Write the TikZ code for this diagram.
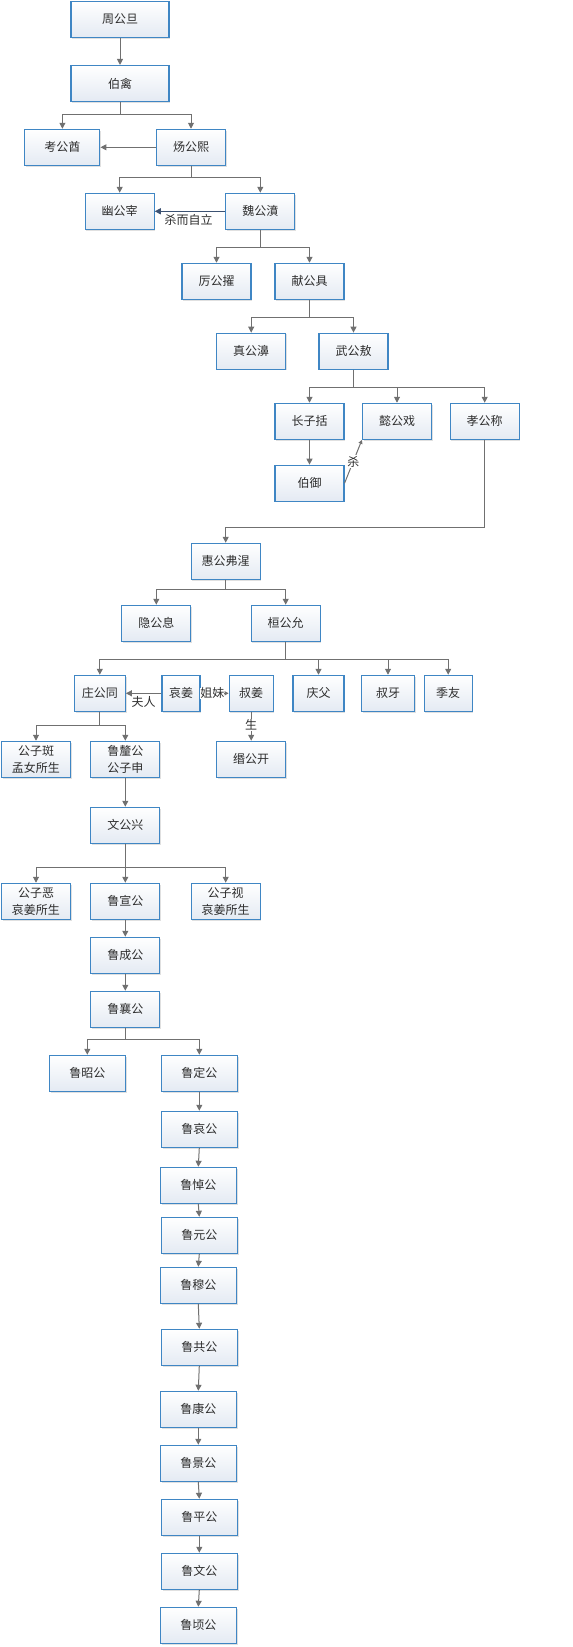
\documentclass[tikz,border=0pt]{standalone}
\usepackage{fontspec}
\setmainfont{Noto Sans CJK SC}
\usepackage{tikz}
\usetikzlibrary{arrows.meta, shadows}
\usepackage{xcolor}
\definecolor{kuanglan}{RGB}{63, 134, 196}
\definecolor{dise}{RGB}{228, 234, 243}
\definecolor{xianhui}{RGB}{112, 112, 112}
\definecolor{shenlan}{RGB}{60, 82, 115}
\definecolor{zise}{RGB}{45, 45, 45}

\begin{document}
\begin{tikzpicture}[
    x=1pt, y=-1pt,
    ren/.style={
        draw=kuanglan,
        line width=1.1pt,
        top color=white,
        bottom color=dise,
        minimum width=69pt,
        minimum height=36pt,
        inner sep=2pt,
        align=center,
        text=zise,
        font=\fontsize{12}{17}\selectfont,
        general shadow={shadow xshift=1.2pt, shadow yshift=-1.2pt, fill=black!12}
    },
    jiantou/.style={
        -{Triangle[length=6pt, width=6pt]},
        draw=xianhui,
        line width=1pt
    },
    biaozhu/.style={
        text=zise,
        font=\fontsize{12}{14}\selectfont
    }
]

\useasboundingbox (0,0) rectangle (573,1647);

% =================================================
% 周公 -- 魏公
% =================================================

\node[ren, minimum width=98pt] (zhougong) at (120,19.5) {周公旦};
\node[ren, minimum width=98pt] (boqin) at (120,83.5) {伯禽};

\node[ren, minimum width=75pt] (kaogong) at (62.4,147.3) {考公酋};
\node[ren] (yanggong) at (191,147.3) {炀公熙};

\node[ren] (yougong) at (119.7,211.3) {幽公宰};
\node[ren] (weigong) at (260.3,211.3) {魏公濆};

\draw[jiantou] (zhougong) -- (boqin);
\draw[jiantou] (boqin.south) -- ++(0,12) -| (kaogong);
\draw[jiantou] (boqin.south) -- ++(0,12) -| (yanggong);
\draw[jiantou] (yanggong) -- (kaogong);
\draw[jiantou] (yanggong.south) -- ++(0,12) -| (yougong);
\draw[jiantou] (yanggong.south) -- ++(0,12) -| (weigong);
\draw[jiantou, draw=shenlan] (weigong) -- (yougong)
    node[biaozhu, below=-1pt, pos=0.52] {杀而自立};

% =================================================
% 厉公 -- 孝公
% =================================================

\node[ren] (ligong) at (216.5,281.3) {厉公擢};
\node[ren] (xiangong) at (309.5,281.3) {献公具};

\node[ren] (zhengong) at (251.2,351.2) {真公濞};
\node[ren] (wugong) at (353.5,351.2) {武公敖};

\node[ren] (kuo) at (309.5,421.3) {长子括};
\node[ren] (yigong) at (397,421.3) {懿公戏};
\node[ren] (xiaogong) at (484.7,421.3) {孝公称};

\node[ren] (boyu) at (309.5,483.2) {伯御};

\draw[jiantou] (weigong.south) -- ++(0,18) -| (ligong);
\draw[jiantou] (weigong.south) -- ++(0,18) -| (xiangong);
\draw[jiantou] (xiangong.south) -- ++(0,18) -| (zhengong);
\draw[jiantou] (xiangong.south) -- ++(0,18) -| (wugong);
\draw[jiantou] (wugong.south) -- ++(0,18) -| (kuo);
\draw[jiantou] (wugong.south) -- ++(0,18) -| (yigong);
\draw[jiantou] (wugong.south) -- ++(0,18) -| (xiaogong);
\draw[jiantou] (kuo) -- (boyu);
\draw[jiantou, -{Triangle[length=4pt, width=4pt]}] (boyu.east) -- (yigong.south west)
    node[biaozhu, fill=white, inner sep=0.5pt, midway] {杀};

% =================================================
% 惠公 -- 桓公
% =================================================

\node[ren] (huigong) at (225.7,561.3) {惠公弗湦};

\node[ren] (yingong) at (156.3,623.3) {隐公息};
\node[ren] (huangong) at (285.7,623.3) {桓公允};

\draw[jiantou] (xiaogong.south) -- ++(0,88) -| (huigong);
\draw[jiantou] (huigong.south) -- ++(0,10) -| (yingong);
\draw[jiantou] (huigong.south) -- ++(0,10) -| (huangong);

\node[ren, minimum width=51pt] (zhuanggong) at (99.8,693.3) {庄公同};
\node[ren, minimum width=38pt] (aijiang) at (181,693.3) {哀姜};
\node[ren, minimum width=44pt] (shujiang) at (251.2,693.3) {叔姜};
\node[ren, minimum width=51pt] (qingfu) at (318.5,693.3) {庆父};
\node[ren, minimum width=53pt] (shuya) at (388,693.3) {叔牙};
\node[ren, minimum width=48pt] (jiyou) at (448.2,693.3) {季友};

\node[ren] (mingong) at (251.2,759.3) {缗公开};

\draw[jiantou] (huangong.south) -- ++(0,18) -| (zhuanggong);
\draw[jiantou] (huangong.south) -- ++(0,18) -| (qingfu);
\draw[jiantou] (huangong.south) -- ++(0,18) -| (shuya);
\draw[jiantou] (huangong.south) -- ++(0,18) -| (jiyou);
\draw[jiantou] (aijiang) -- (zhuanggong)
    node[biaozhu, below=-1pt, midway] {夫人};
\draw[jiantou, -{Triangle[length=4pt, width=4pt]}] (aijiang) -- (shujiang)
    node[biaozhu, fill=white, inner sep=0pt, pos=0.42] {姐妹};
\draw[jiantou] (shujiang) -- (mingong)
    node[biaozhu, fill=white, inner sep=0.5pt, pos=0.45] {生};

% =================================================
% 鲁釐公 -- 鲁襄公
% =================================================

\node[ren] (ziban) at (36,759.3) {公子斑\\孟女所生};
\node[ren] (xigong) at (125.3,759.3) {鲁釐公\\公子申};

\node[ren] (wengong) at (125.3,825.3) {文公兴};

\node[ren] (ziwu) at (36,901.3) {公子恶\\哀姜所生};
\node[ren] (xuangong) at (125.3,901.3) {鲁宣公};
\node[ren] (zishi) at (225.7,901.3) {公子视\\哀姜所生};

\node[ren] (chenggong) at (125.3,955.3) {鲁成公};
\node[ren] (xianggong) at (125.3,1009.3) {鲁襄公};

\draw[jiantou] (zhuanggong.south) -- ++(0,14) -| (ziban);
\draw[jiantou] (zhuanggong.south) -- ++(0,14) -| (xigong);
\draw[jiantou] (xigong) -- (wengong);
\draw[jiantou] (wengong.south) -- ++(0,24) -| (ziwu);
\draw[jiantou] (wengong.south) -- ++(0,24) -| (xuangong);
\draw[jiantou] (wengong.south) -- ++(0,24) -| (zishi);
\draw[jiantou] (xuangong) -- (chenggong);
\draw[jiantou] (chenggong) -- (xianggong);

% =================================================
% 鲁昭公 -- 鲁顷公
% =================================================

\node[ren, minimum width=76pt] (zhaogong) at (87.3,1073.3) {鲁昭公};
\node[ren, minimum width=76pt] (dinggong) at (199.3,1073.3) {鲁定公};
\node[ren, minimum width=76pt] (aigong) at (199.3,1129.3) {鲁哀公};
\node[ren, minimum width=76pt] (daogong) at (198.3,1185.3) {鲁悼公};
\node[ren, minimum width=76pt] (yuangong) at (199.3,1235.3) {鲁元公};
\node[ren, minimum width=76pt] (mugong) at (198.3,1285.3) {鲁穆公};
\node[ren, minimum width=76pt] (gonggong) at (199.3,1347.3) {鲁共公};
\node[ren, minimum width=76pt] (kanggong) at (198.3,1409.3) {鲁康公};
\node[ren, minimum width=76pt] (jinggong) at (198.3,1463.3) {鲁景公};
\node[ren, minimum width=76pt] (pinggong) at (199.3,1517.3) {鲁平公};
\node[ren, minimum width=76pt] (luwengong) at (199.3,1571.3) {鲁文公};
\node[ren, minimum width=76pt] (qinggong) at (198.3,1625.3) {鲁顷公};

\draw[jiantou] (xianggong.south) -- ++(0,12) -| (zhaogong);
\draw[jiantou] (xianggong.south) -- ++(0,12) -| (dinggong);
\draw[jiantou] (dinggong.south) -- (aigong.north);
\draw[jiantou] (aigong.south) -- (daogong.north);
\draw[jiantou] (daogong.south) -- (yuangong.north);
\draw[jiantou] (yuangong.south) -- (mugong.north);
\draw[jiantou] (mugong.south) -- (gonggong.north);
\draw[jiantou] (gonggong.south) -- (kanggong.north);
\draw[jiantou] (kanggong.south) -- (jinggong.north);
\draw[jiantou] (jinggong.south) -- (pinggong.north);
\draw[jiantou] (pinggong.south) -- (luwengong.north);
\draw[jiantou] (luwengong.south) -- (qinggong.north);

\end{tikzpicture}
\end{document}
